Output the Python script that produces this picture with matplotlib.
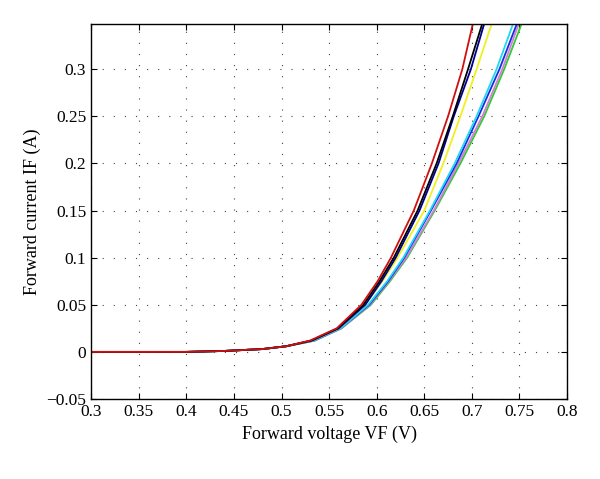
import numpy as np
import matplotlib
matplotlib.use('Agg')
import matplotlib.pyplot as plt

current = [0, 0, 0.001, 0.003, 0.006, 0.012, 0.025, 0.05, 0.075, 0.1, 0.15, 0.2, 0.25, 0.3, 0.35]

low = [0.30, 0.40, 0.44, 0.48, 0.505]
v_red     = low + [0.530, 0.558, 0.584, 0.601, 0.615, 0.639, 0.658, 0.675, 0.690, 0.7015]
v_black   = low + [0.531, 0.559, 0.586, 0.603, 0.618, 0.643, 0.663, 0.680, 0.696, 0.7115]
v_navy    = low + [0.532, 0.560, 0.588, 0.605, 0.620, 0.645, 0.665, 0.681, 0.699, 0.7135]
v_yellow  = low + [0.532, 0.560, 0.588, 0.606, 0.622, 0.650, 0.670, 0.688, 0.705, 0.7215]
v_cyan    = low + [0.534, 0.562, 0.591, 0.611, 0.628, 0.656, 0.682, 0.705, 0.726, 0.744]
v_blue    = low + [0.534, 0.562, 0.592, 0.612, 0.629, 0.657, 0.684, 0.707, 0.729, 0.748]
v_magenta = low + [0.535, 0.563, 0.593, 0.613, 0.631, 0.660, 0.686, 0.711, 0.732, 0.750]
v_green   = low + [0.535, 0.563, 0.594, 0.614, 0.632, 0.661, 0.688, 0.713, 0.734, 0.753]

curves = [
    (v_green, '#2ecc2e'),
    (v_magenta, '#d87ad8'),
    (v_blue, '#1030e0'),
    (v_cyan, '#20d8f0'),
    (v_yellow, '#f0f020'),
    (v_navy, '#000090'),
    (v_black, '#000000'),
    (v_red, '#d01010'),
]

xticks = [0.3, 0.35, 0.4, 0.45, 0.5, 0.55, 0.6, 0.65, 0.7, 0.75, 0.8]
xticklabels = ['0.3', '0.35', '0.4', '0.45', '0.5', '0.55', '0.6', '0.65', '0.7', '0.75', '0.8']
yticks = [-0.05, 0, 0.05, 0.1, 0.15, 0.2, 0.25, 0.3]
yticklabels = ['\u22120.05', '0', '0.05', '0.1', '0.15', '0.2', '0.25', '0.3']

plt.rcParams['font.family'] = ['Liberation Serif', 'DejaVu Serif']
fig = plt.figure(figsize=(6, 4.79), dpi=100)
ax = fig.add_axes([0.152, 0.167, 0.793, 0.783])

for v, c in curves:
    ax.plot(v, current, color=c, linewidth=1.3)

ax.set_xlim(0.3, 0.8)
ax.set_ylim(-0.05, 0.348)
ax.set_xticks(xticks)
ax.set_xticklabels(xticklabels)
ax.set_yticks(yticks)
ax.set_yticklabels(yticklabels)
ax.tick_params(direction='in', top=True, right=True, labelsize=12.5, length=4, width=0.8)
ax.grid(True, color='#444444', linewidth=0.8, dashes=(1, 9))
for s in ax.spines.values():
    s.set_linewidth(1.0)

ax.set_xlabel('Forward voltage VF (V)', fontsize=13)
ax.set_ylabel('Forward current IF (A)', fontsize=13)

fig.savefig('out.png', dpi=100)
